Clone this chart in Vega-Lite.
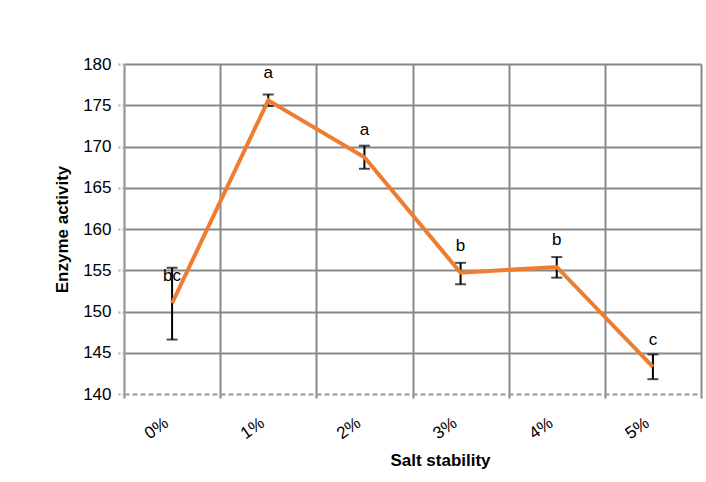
{
  "$schema": "https://vega.github.io/schema/vega-lite/v6.json",
  "width": 577,
  "height": 330,
  "autosize": "none",
  "padding": {"left": 124, "top": 64, "right": 5, "bottom": 88},
  "background": "white",
  "config": {"view": {"stroke": null}, "font": "Liberation Sans"},
  "data": {
    "values": [
      {"salt": "0%", "activity": 151.0, "lower": 146.6, "upper": 155.3, "label": "bc"},
      {"salt": "1%", "activity": 175.6, "lower": 174.9, "upper": 176.3, "label": "a"},
      {"salt": "2%", "activity": 168.7, "lower": 167.3, "upper": 170.1, "label": "a"},
      {"salt": "3%", "activity": 154.7, "lower": 153.3, "upper": 155.9, "label": "b"},
      {"salt": "4%", "activity": 155.4, "lower": 154.1, "upper": 156.6, "label": "b"},
      {"salt": "5%", "activity": 143.3, "lower": 141.8, "upper": 144.8, "label": "c"}
    ]
  },
  "encoding": {
    "x": {
      "field": "salt",
      "type": "nominal",
      "bandPosition": 0.5,
      "scale": {"type": "band", "paddingInner": 0, "paddingOuter": 0},
      "axis": {
        "title": "Salt stability",
        "titleFont": "Liberation Sans",
        "titleFontSize": 17,
        "titleFontWeight": "bold",
        "titleColor": "#000",
        "titleX": 316,
        "titleY": 66,
        "titleAlign": "center",
        "titleBaseline": "middle",
        "tickBand": "extent",
        "grid": true,
        "gridColor": "#888",
        "gridWidth": 2,
        "gridOpacity": 1,
        "ticks": true,
        "tickColor": "#888",
        "tickWidth": 2,
        "tickSize": 4,
        "domain": true,
        "domainColor": "#999",
        "domainWidth": 2,
        "domainDash": [5, 3],
        "labelAngle": -35,
        "labelAlign": "center",
        "labelBaseline": "middle",
        "labelPadding": 30,
        "labelOffset": -16,
        "labelFontSize": 17,
        "labelColor": "#000"
      }
    }
  },
  "layer": [
    {
      "mark": {"type": "text", "fontSize": 17, "color": "#000", "dy": -27, "baseline": "middle", "align": "center"},
      "encoding": {
        "y": {"field": "activity", "type": "quantitative"},
        "text": {"field": "label"}
      }
    },
    {
      "mark": {"type": "rule", "color": "#000", "strokeWidth": 2},
      "encoding": {
        "y": {"field": "lower", "type": "quantitative"},
        "y2": {"field": "upper"}
      }
    },
    {
      "mark": {"type": "tick", "color": "#000", "thickness": 2, "size": 11, "orient": "horizontal"},
      "encoding": {"y": {"field": "lower", "type": "quantitative"}}
    },
    {
      "mark": {"type": "tick", "color": "#000", "thickness": 2, "size": 11, "orient": "horizontal"},
      "encoding": {"y": {"field": "upper", "type": "quantitative"}}
    },
    {
      "mark": {"type": "line", "color": "#ED7D31", "strokeWidth": 4},
      "encoding": {
        "y": {
          "field": "activity",
          "type": "quantitative",
          "scale": {"domain": [140, 180], "nice": false, "zero": false},
          "axis": {
            "title": "Enzyme activity",
            "titleFont": "Liberation Sans",
            "titleFontSize": 17,
            "titleFontWeight": "bold",
            "titleColor": "#000",
            "titleX": -62,
            "titleY": 165,
            "titleAlign": "center",
            "titleBaseline": "middle",
            "titleAngle": -90,
            "values": [140, 145, 150, 155, 160, 165, 170, 175, 180],
            "grid": true,
            "gridColor": "#888",
            "gridWidth": 2,
            "gridOpacity": {"condition": {"test": "datum.value == 140", "value": 0}, "value": 1},
            "domain": true,
            "domainColor": "#aaa",
            "domainWidth": 2,
            "domainDash": [2, 2],
            "ticks": true,
            "tickColor": "#aaa",
            "tickWidth": 2,
            "tickSize": 7,
            "tickDash": [2, 2],
            "labelPadding": 6,
            "labelFontSize": 17,
            "labelColor": "#000"
          }
        }
      }
    }
  ]
}
